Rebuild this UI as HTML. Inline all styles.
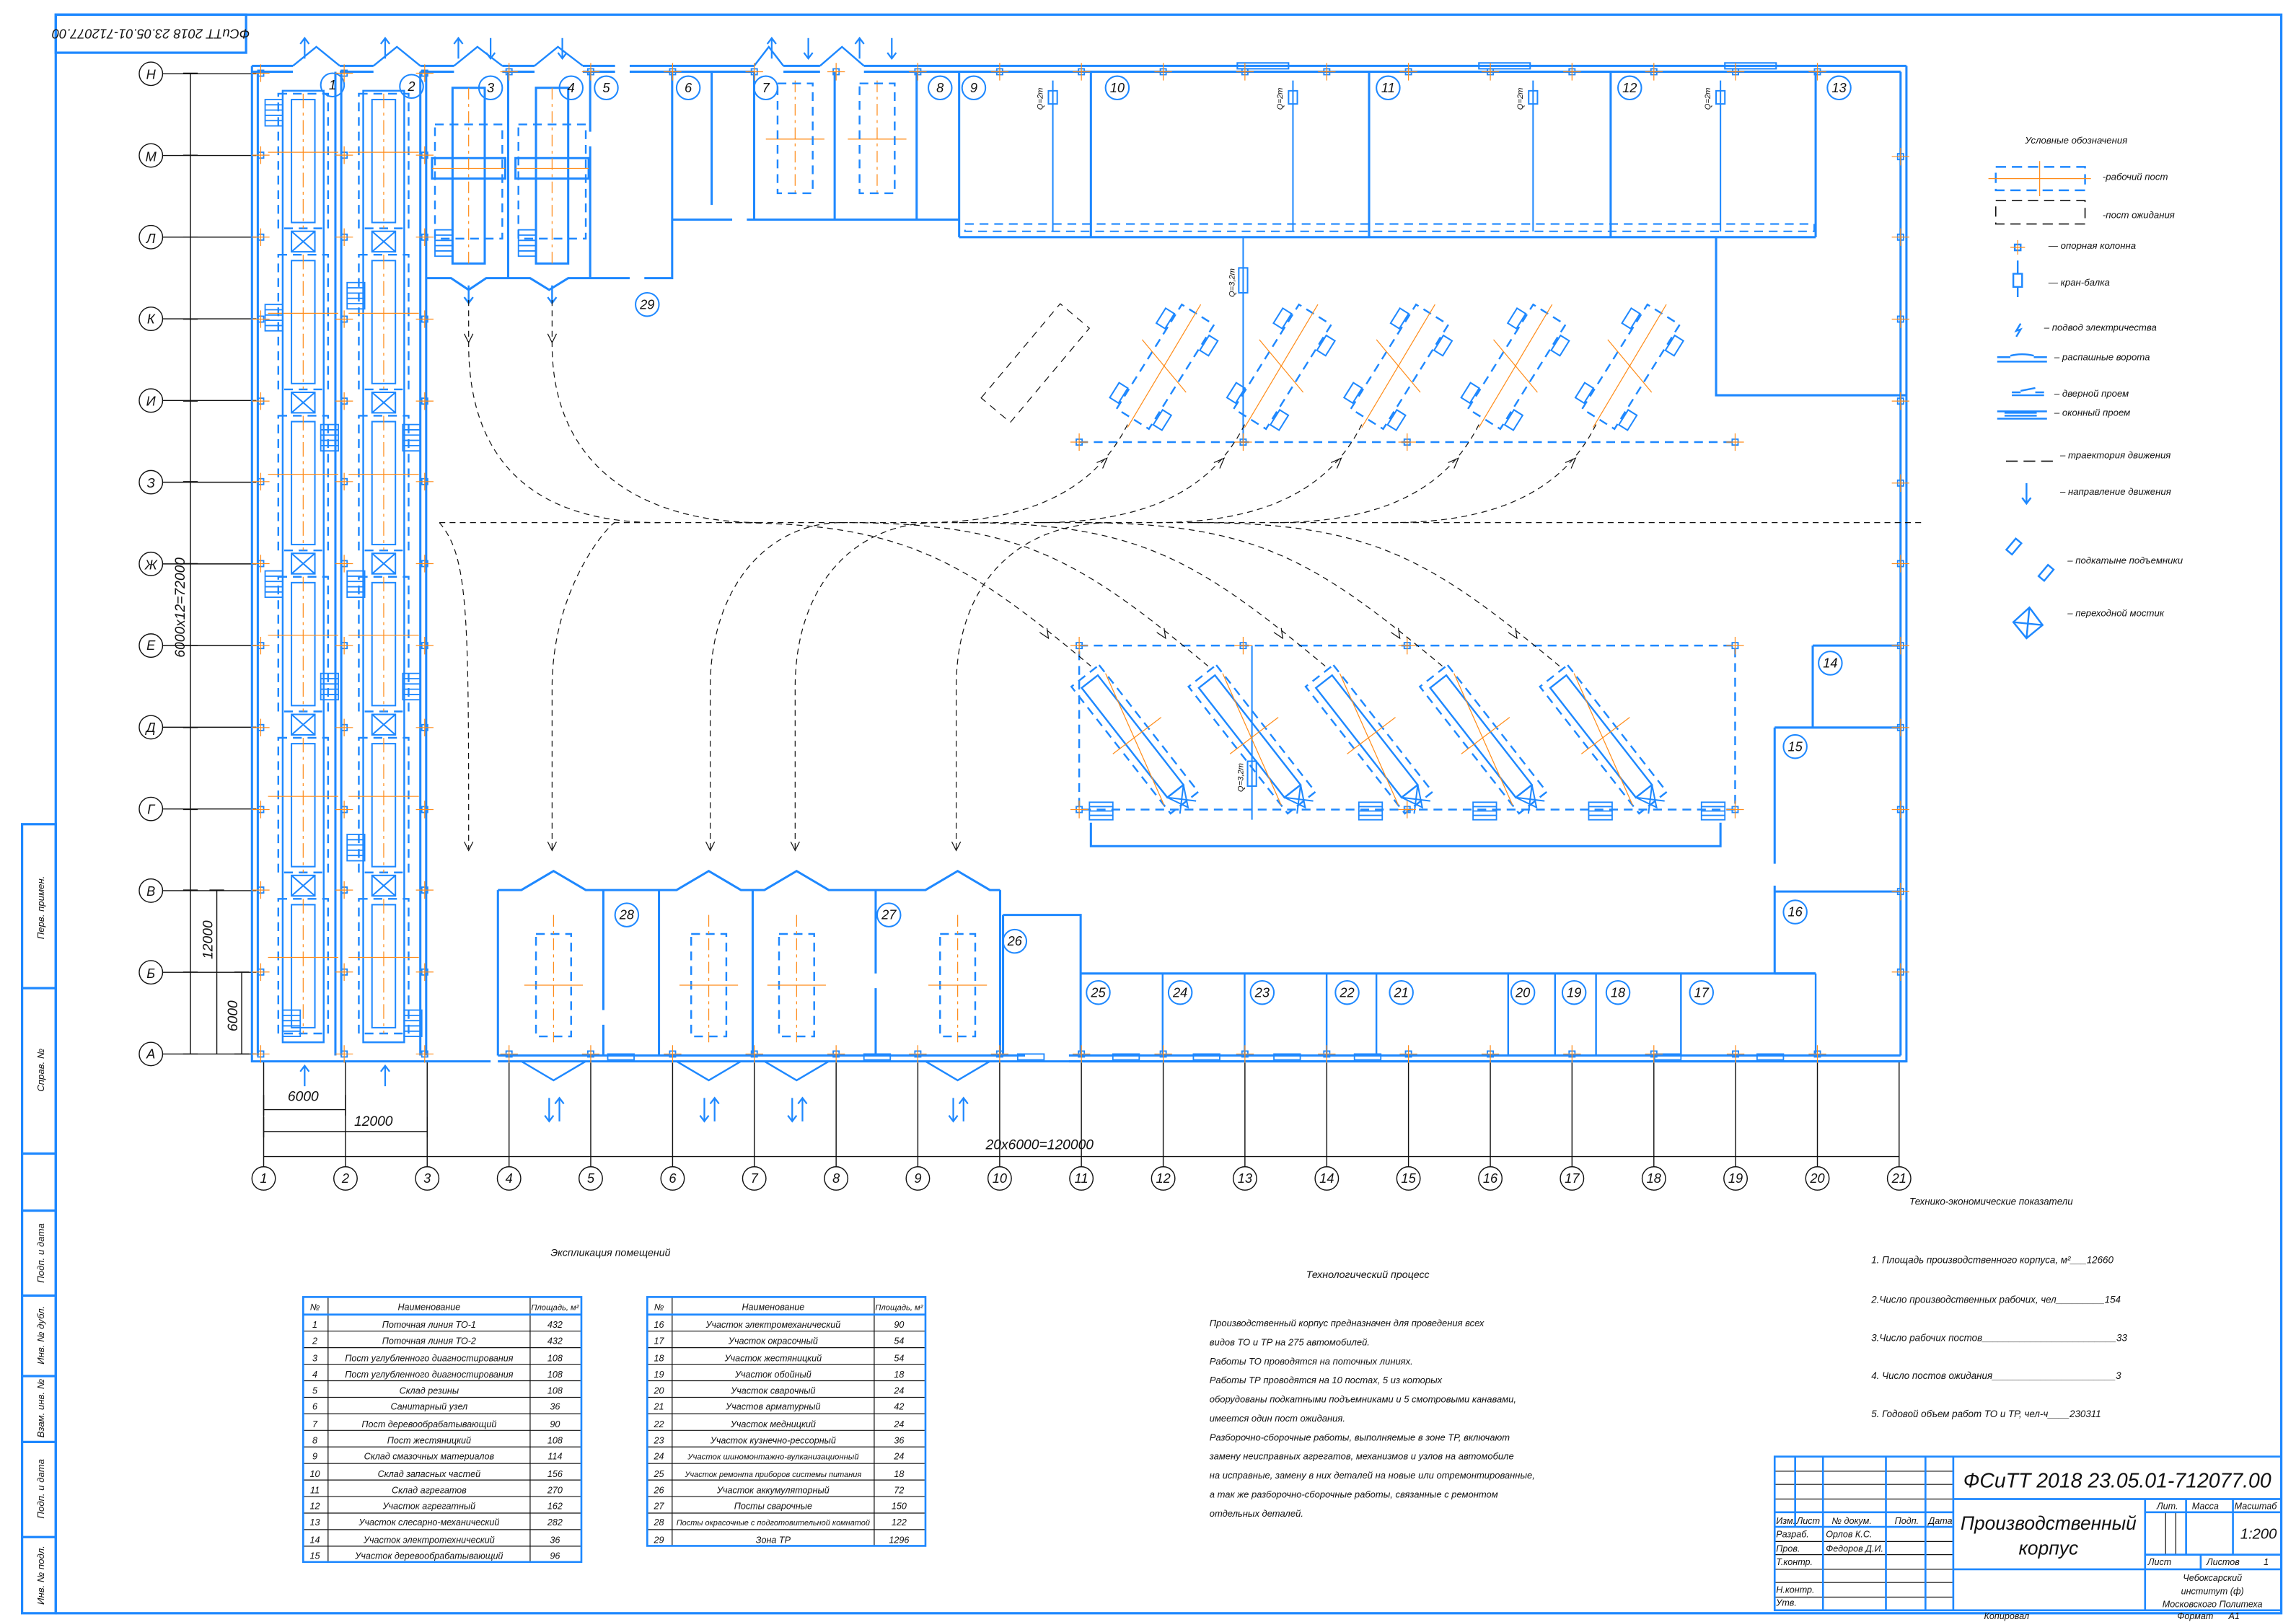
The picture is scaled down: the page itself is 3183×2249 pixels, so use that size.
<!DOCTYPE html>
<html><head><meta charset="utf-8">
<style>
html,body{margin:0;padding:0;background:#fff;}
svg{display:block;}
text{font-family:"Liberation Sans","DejaVu Sans",sans-serif;font-style:italic;fill:#111;}
</style></head>
<body>
<svg width="3183" height="2249" viewBox="0 0 1568 1108" xmlns="http://www.w3.org/2000/svg" xmlns:xlink="http://www.w3.org/1999/xlink">
<defs>
<g id="fp" fill="none">
<rect x="-17" y="0" width="34" height="92" stroke="#1e88ff" stroke-width="1.2" stroke-dasharray="6 4"/>
<rect x="-8" y="4" width="16" height="84" stroke="#1e88ff" stroke-width="1"/>
<line x1="0" y1="0" x2="0" y2="92" stroke="#ff8c1a" stroke-width="0.6" stroke-dasharray="10 3 2 3"/>
<line x1="-24" y1="40" x2="24" y2="40" stroke="#ff8c1a" stroke-width="0.6"/>
</g>
<g id="br" fill="none" stroke="#1e88ff" stroke-width="1"><rect x="-8" y="94" width="16" height="14"/><path d="M-8 94 l16 14 M8 94 l-16 14"/></g>
<g id="st" fill="none" stroke="#1e88ff" stroke-width="0.9"><rect x="0" y="0" width="12" height="18"/><path d="M0 3.6 h12 M0 7.2 h12 M0 10.8 h12 M0 14.4 h12"/></g>
<g id="st2" fill="none" stroke="#1e88ff" stroke-width="0.9"><rect x="0" y="0" width="16" height="12"/><path d="M0 3 h16 M0 6 h16 M0 9 h16"/></g>
<g id="cm" fill="none"><rect x="-2" y="-2" width="4" height="4" stroke="#1e88ff" stroke-width="0.9"/><path d="M-6 0 h12 M0 -6 v12" stroke="#ff8c1a" stroke-width="0.6"/></g>
<g id="up" fill="none">
<g transform="rotate(-58)" stroke="#1e88ff">
<rect x="-42" y="-12" width="84" height="26" stroke-dasharray="6 4" stroke-width="1.2"/>
<rect x="-38" y="-20" width="12" height="7" stroke-width="1"/><rect x="22" y="-20" width="12" height="7" stroke-width="1"/>
<rect x="-38" y="15" width="12" height="7" stroke-width="1"/><rect x="22" y="15" width="12" height="7" stroke-width="1"/>
</g>
<path d="M-25 42 L25 -42 M-15 -18 L15 18" stroke="#ff8c1a" stroke-width="0.6"/>
</g>
<g id="lp" fill="none">
<g transform="rotate(52)" stroke="#1e88ff">
<rect x="-55" y="-12" width="110" height="24" stroke-dasharray="6 4" stroke-width="1.2"/>
<rect x="-50" y="-7" width="95" height="14" stroke-width="1.2"/>
<path d="M45 -7 l14 7 l-14 7 M45 -7 l14 14 M45 7 l14 -14" stroke-width="1"/>
</g>
<path d="M-20 -45 L20 45 M-15 10 L18 -15" stroke="#ff8c1a" stroke-width="0.6"/>
</g>
<g id="sp" fill="none">
<rect x="-12" y="0" width="24" height="70" stroke="#1e88ff" stroke-width="1.2" stroke-dasharray="6 4"/>
<line x1="0" y1="-13" x2="0" y2="74" stroke="#ff8c1a" stroke-width="0.6" stroke-dasharray="8 3 2 3"/>
<line x1="-20" y1="35" x2="20" y2="35" stroke="#ff8c1a" stroke-width="0.6"/>
</g>
<g id="ud" fill="none" stroke="#1e88ff" stroke-width="1.1"><path d="M-3 0 v16 m-3 -4 l3 4 l3 -4 M4 16 v-16 m-3 4 l3 -4 l3 4"/></g>
</defs>
<rect width="1568" height="1108" fill="#fff"/>

<!-- frame -->
<g fill="none" stroke="#1e88ff" stroke-width="1.6">
<rect x="38" y="10" width="1520" height="1092"/>
<rect x="38" y="10" width="130" height="26"/>
<rect x="15" y="563" width="23" height="539"/>
<path d="M15 675 H38 M15 788 H38 M15 827 H38 M15 885 H38 M15 940 H38 M15 985 H38 M15 1050 H38"/>
</g>
<text transform="translate(103,23) rotate(180)" font-size="9" text-anchor="middle" dy="3">ФСиТТ 2018 23.05.01-712077.00</text>
<g font-size="6.5">
<text transform="translate(30,620) rotate(-90)" text-anchor="middle">Перв. примен.</text>
<text transform="translate(30,731) rotate(-90)" text-anchor="middle">Справ. №</text>
<text transform="translate(30,856) rotate(-90)" text-anchor="middle">Подп. и дата</text>
<text transform="translate(30,912) rotate(-90)" text-anchor="middle">Инв. № дубл.</text>
<text transform="translate(30,962) rotate(-90)" text-anchor="middle">Взам. инв. №</text>
<text transform="translate(30,1017) rotate(-90)" text-anchor="middle">Подп. и дата</text>
<text transform="translate(30,1076) rotate(-90)" text-anchor="middle">Инв. № подл.</text>
</g>

<!-- grid -->
<g stroke="#111" stroke-width="0.7" fill="none">
<path d="M180 725V797 M235.9 725V797 M291.7 725V797 M347.6 725V797 M403.4 725V797 M459.3 725V797 M515.1 725V797 M571 725V797 M626.8 725V797 M682.7 725V797 M738.5 725V797 M794.4 725V797 M850.2 725V797 M906.1 725V797 M961.9 725V797 M1017.8 725V797 M1073.6 725V797 M1129.5 725V797 M1185.3 725V797 M1241.2 725V797 M1297 725V797"/>
<path d="M111 720H175 M111 664.2H175 M111 608.4H175 M111 552.6H175 M111 496.8H175 M111 441H175 M111 385.2H175 M111 329.4H175 M111 273.6H175 M111 217.8H175 M111 162H175 M111 106.2H175 M111 50.4H175"/>
<circle cx="180" cy="805" r="8"/><circle cx="235.9" cy="805" r="8"/><circle cx="291.7" cy="805" r="8"/><circle cx="347.6" cy="805" r="8"/><circle cx="403.4" cy="805" r="8"/><circle cx="459.3" cy="805" r="8"/><circle cx="515.1" cy="805" r="8"/><circle cx="571" cy="805" r="8"/><circle cx="626.8" cy="805" r="8"/><circle cx="682.7" cy="805" r="8"/><circle cx="738.5" cy="805" r="8"/><circle cx="794.4" cy="805" r="8"/><circle cx="850.2" cy="805" r="8"/><circle cx="906.1" cy="805" r="8"/><circle cx="961.9" cy="805" r="8"/><circle cx="1017.8" cy="805" r="8"/><circle cx="1073.6" cy="805" r="8"/><circle cx="1129.5" cy="805" r="8"/><circle cx="1185.3" cy="805" r="8"/><circle cx="1241.2" cy="805" r="8"/><circle cx="1297" cy="805" r="8"/>
<circle cx="103" cy="720" r="8"/><circle cx="103" cy="664.2" r="8"/><circle cx="103" cy="608.4" r="8"/><circle cx="103" cy="552.6" r="8"/><circle cx="103" cy="496.8" r="8"/><circle cx="103" cy="441" r="8"/><circle cx="103" cy="385.2" r="8"/><circle cx="103" cy="329.4" r="8"/><circle cx="103" cy="273.6" r="8"/><circle cx="103" cy="217.8" r="8"/><circle cx="103" cy="162" r="8"/><circle cx="103" cy="106.2" r="8"/><circle cx="103" cy="50.4" r="8"/>
<path d="M130 50V720 M148 608V720 M165 664V720 M180 758H235.9 M180 773H291.7 M180 790H1297 M180 748V762 M235.9 748V762 M180 763V777 M291.7 763V777"/>
<path d="M125 720H135 M125 664H135 M125 608H135 M125 553H135 M125 497H135 M125 441H135 M125 385H135 M125 329H135 M125 274H135 M125 218H135 M125 162H135 M125 106H135 M125 50H135 M143 608H153 M160 664H170 M160 720H170"/>
</g>
<g font-size="9" text-anchor="middle">
<text x="103" y="54">Н</text><text x="103" y="110">М</text><text x="103" y="166">Л</text><text x="103" y="221">К</text><text x="103" y="277">И</text><text x="103" y="333">З</text><text x="103" y="389">Ж</text><text x="103" y="444">Е</text><text x="103" y="500">Д</text><text x="103" y="556">Г</text><text x="103" y="612">В</text><text x="103" y="668">Б</text><text x="103" y="723">А</text>
<text x="180" y="808">1</text><text x="235.9" y="808">2</text><text x="291.7" y="808">3</text><text x="347.6" y="808">4</text><text x="403.4" y="808">5</text><text x="459.3" y="808">6</text><text x="515.1" y="808">7</text><text x="571" y="808">8</text><text x="626.8" y="808">9</text><text x="682.7" y="808">10</text><text x="738.5" y="808">11</text><text x="794.4" y="808">12</text><text x="850.2" y="808">13</text><text x="906.1" y="808">14</text><text x="961.9" y="808">15</text><text x="1017.8" y="808">16</text><text x="1073.6" y="808">17</text><text x="1129.5" y="808">18</text><text x="1185.3" y="808">19</text><text x="1241.2" y="808">20</text><text x="1297" y="808">21</text>
</g>
<g font-size="9.5">
<text transform="translate(126,415) rotate(-90)" text-anchor="middle">6000х12=72000</text>
<text transform="translate(145,642) rotate(-90)" text-anchor="middle">12000</text>
<text transform="translate(162,694) rotate(-90)" text-anchor="middle">6000</text>
<text x="207" y="752" text-anchor="middle">6000</text>
<text x="255" y="769" text-anchor="middle">12000</text>
<text x="710" y="785" text-anchor="middle">20х6000=120000</text>
</g>

<!-- building walls -->
<g fill="none" stroke="#1e88ff" stroke-width="1.5">
<path d="M172 45V725H335 M176 49V721"/>
<path d="M1302 45V725H700 M1298 49V721"/>
<path d="M172 45H200 M172 49H200 M232 45H255 M232 49H255 M287 45H310 M287 49H310 M343 45H365 M343 49H365 M398 45H420 M398 49H420 M430 45H515 M430 49H515 M535 45H560 M535 49H560 M590 45H1302 M590 49H1298"/>
<path stroke-width="1.2" d="M200 45L216 32L232 45 M255 45L271 32L287 45 M310 45L326 32L343 45 M365 45L381 32L398 45 M515 45L525 32L535 45 M560 45L575 32L590 45"/>
<path stroke-width="1" d="M845 43h35v4h-35z M1010 43h35v4h-35z M1178 43h35v4h-35z"/>
<path d="M340 725H700 M340 721H700 M730 725H1302 M730 721H1298"/>
<path d="M229 49V721 M233 49V721 M287 49V721 M291 49V721"/>
<!-- flow line frames -->
<rect x="193" y="62" width="28" height="650" stroke-width="1.2"/>
<rect x="248" y="62" width="28" height="650" stroke-width="1.2"/>
<!-- rooms 3,4,5 -->
<path d="M291 190H308L320 198L332 190H362L375 198L388 190H403 M347 49V190 M403 49V90 M403 100V190H430 M459 49V190H440"/>
<path d="M309 60h22v120h-22z M366 60h22v120h-22z M295 108h50v14h-50z M352 108h50v14h-50z"/>
<path stroke-width="1.2" stroke-dasharray="6 4" d="M297 85h46v78h-46z M354 85h46v78h-46z"/>
<path stroke-width="1.2" d="M320 195v12m-3 -4l3 4l3 -4 M377 195v12m-3 -4l3 4l3 -4"/>
<!-- rooms 6-8 -->
<path d="M459 150H500 M510 150H655 M515 49V150 M570 49V150 M626 49V150 M486 49V140 M655 49V162"/>
<!-- rooms 9-13 -->
<path d="M655 162H1240 M745 49V162 M935 49V162 M1100 49V162 M1240 49V162 M1172 162V270H1302"/>
<path stroke-width="1" d="M719 55V158 M883 55V158 M1047 55V158 M1175 55V158 M716 62h6v9h-6z M880 62h6v9h-6z M1044 62h6v9h-6z M1172 62h6v9h-6z"/>
<rect x="659" y="153" width="580" height="5" stroke-width="1" stroke-dasharray="6 4"/>
<!-- TR zone -->
<path stroke-width="1.2" stroke-dasharray="6 4" d="M737 302H1185"/>
<path stroke-width="1" d="M849 162V302 M846 183h6v17h-6z"/>
<rect x="737" y="441" width="448" height="112" stroke-width="1.2" stroke-dasharray="6 4"/>
<path stroke-width="1" d="M855 441V560 M852 520h6v17h-6z"/>
<path d="M745 562V578H1175V562"/>
<!-- right rooms -->
<path d="M1238 441H1298 M1238 441V497 M1212 497H1298 M1212 497V590 M1212 605V665 M1212 609H1298 M1212 665H1240"/>
<!-- bottom rooms -->
<path d="M738 665H1240 M738 665V721 M685 625H738V665 M685 625V721"/>
<path stroke-width="1.2" d="M794 665V721 M850 665V721 M906 665V721 M940 665V721 M1030 665V721 M1062 665V721 M1090 665V721 M1148 665V721 M1240 665V721"/>
<path stroke-width="0.9" d="M760 720h18v4h-18z M815 720h18v4h-18z M870 720h18v4h-18z M925 720h18v4h-18z M1130 720h18v4h-18z M1200 720h18v4h-18z M415 720h18v4h-18z M590 720h18v4h-18z M695 720h18v4h-18z"/>
<path d="M340 608V721 M412 608V690 M412 700V721 M450 608V721 M514 608V721 M598 608V665 M598 675V721 M683 608V721"/>
<path d="M340 608H356L378 595L400 608H462L484 595L506 608H522L544 595L566 608H632L654 595L676 608H683"/>
<path stroke-width="1.2" d="M340 725H356L378 738L400 725 M462 725L484 738L506 725 M522 725L544 738L566 725 M632 725L654 738L676 725"/>
<path stroke-width="1.1" d="M208 40v-14m-3 4l3 -4l3 4 M263 40v-14m-3 4l3 -4l3 4 M313 40v-14m-3 4l3 -4l3 4 M335 26v14m-3 -4l3 4l3 -4 M384 26v14m-3 -4l3 4l3 -4 M527 40v-14m-3 4l3 -4l3 4 M552 26v14m-3 -4l3 4l3 -4 M587 40v-14m-3 4l3 -4l3 4 M609 26v14m-3 -4l3 4l3 -4 M208 742v-14m-3 4l3 -4l3 4 M263 742v-14m-3 4l3 -4l3 4"/>
<!-- number circles -->
<g stroke-width="1">
<circle cx="227" cy="58" r="8"/><circle cx="281" cy="59" r="8"/><circle cx="335" cy="60" r="8"/><circle cx="390" cy="60" r="8"/><circle cx="414" cy="60" r="8"/><circle cx="470" cy="60" r="8"/><circle cx="523" cy="60" r="8"/><circle cx="642" cy="60" r="8"/><circle cx="665" cy="60" r="8"/><circle cx="763" cy="60" r="8"/><circle cx="948" cy="60" r="8"/><circle cx="1113" cy="60" r="8"/><circle cx="1256" cy="60" r="8"/><circle cx="442" cy="208" r="8"/><circle cx="1250" cy="453" r="8"/><circle cx="1226" cy="510" r="8"/><circle cx="1226" cy="623" r="8"/><circle cx="428" cy="625" r="8"/><circle cx="607" cy="625" r="8"/><circle cx="693" cy="643" r="8"/><circle cx="750" cy="678" r="8"/><circle cx="806" cy="678" r="8"/><circle cx="862" cy="678" r="8"/><circle cx="920" cy="678" r="8"/><circle cx="957" cy="678" r="8"/><circle cx="1040" cy="678" r="8"/><circle cx="1075" cy="678" r="8"/><circle cx="1105" cy="678" r="8"/><circle cx="1162" cy="678" r="8"/>
</g>
</g>
<!-- orange centre lines rooms 3,4,7,8 -->
<g stroke="#ff8c1a" stroke-width="0.6" fill="none">
<path stroke-dasharray="8 3 2 3" d="M320 60V180 M377 60V180 M543 55V135 M599 55V135"/>
<path d="M295 115H345 M352 115H402 M523 95H563 M579 95H619"/>
</g>
<path stroke="#1e88ff" stroke-width="1.2" stroke-dasharray="6 4" fill="none" d="M531 57h24v75h-24z M587 57h24v75h-24z"/>
<!-- flow posts -->
<use xlink:href="#fp" x="207" y="64"/><use xlink:href="#fp" x="207" y="174"/><use xlink:href="#fp" x="207" y="284"/><use xlink:href="#fp" x="207" y="394"/><use xlink:href="#fp" x="207" y="504"/><use xlink:href="#fp" x="207" y="614"/>
<use xlink:href="#fp" x="262" y="64"/><use xlink:href="#fp" x="262" y="174"/><use xlink:href="#fp" x="262" y="284"/><use xlink:href="#fp" x="262" y="394"/><use xlink:href="#fp" x="262" y="504"/><use xlink:href="#fp" x="262" y="614"/>
<use xlink:href="#br" x="207" y="64"/><use xlink:href="#br" x="207" y="174"/><use xlink:href="#br" x="207" y="284"/><use xlink:href="#br" x="207" y="394"/><use xlink:href="#br" x="207" y="504"/>
<use xlink:href="#br" x="262" y="64"/><use xlink:href="#br" x="262" y="174"/><use xlink:href="#br" x="262" y="284"/><use xlink:href="#br" x="262" y="394"/><use xlink:href="#br" x="262" y="504"/>
<use xlink:href="#st" x="181" y="68"/><use xlink:href="#st" x="181" y="208"/><use xlink:href="#st" x="181" y="390"/><use xlink:href="#st" x="237" y="193"/><use xlink:href="#st" x="237" y="390"/><use xlink:href="#st" x="237" y="570"/><use xlink:href="#st" x="219" y="460"/><use xlink:href="#st" x="275" y="460"/><use xlink:href="#st" x="275" y="290"/><use xlink:href="#st" x="219" y="290"/><use xlink:href="#st" x="193" y="690"/><use xlink:href="#st" x="276" y="690"/><use xlink:href="#st" x="297" y="157"/><use xlink:href="#st" x="354" y="157"/>
<!-- TR posts -->
<use xlink:href="#up" x="795" y="250"/><use xlink:href="#up" x="875" y="250"/><use xlink:href="#up" x="955" y="250"/><use xlink:href="#up" x="1035" y="250"/><use xlink:href="#up" x="1113" y="250"/>
<use xlink:href="#lp" x="775" y="505"/><use xlink:href="#lp" x="855" y="505"/><use xlink:href="#lp" x="935" y="505"/><use xlink:href="#lp" x="1013" y="505"/><use xlink:href="#lp" x="1095" y="505"/>
<use xlink:href="#st2" x="744" y="548"/><use xlink:href="#st2" x="928" y="548"/><use xlink:href="#st2" x="1006" y="548"/><use xlink:href="#st2" x="1085" y="548"/><use xlink:href="#st2" x="1162" y="548"/>
<use xlink:href="#sp" x="378" y="638"/><use xlink:href="#sp" x="484" y="638"/><use xlink:href="#sp" x="544" y="638"/><use xlink:href="#sp" x="654" y="638"/>
<use xlink:href="#ud" x="378" y="750"/><use xlink:href="#ud" x="484" y="750"/><use xlink:href="#ud" x="544" y="750"/><use xlink:href="#ud" x="654" y="750"/>
<!-- column markers -->
<g>
<use xlink:href="#cm" x="178" y="50"/><use xlink:href="#cm" x="178" y="106"/><use xlink:href="#cm" x="178" y="162"/><use xlink:href="#cm" x="178" y="218"/><use xlink:href="#cm" x="178" y="274"/><use xlink:href="#cm" x="178" y="329"/><use xlink:href="#cm" x="178" y="385"/><use xlink:href="#cm" x="178" y="441"/><use xlink:href="#cm" x="178" y="497"/><use xlink:href="#cm" x="178" y="553"/><use xlink:href="#cm" x="178" y="608"/><use xlink:href="#cm" x="178" y="664"/><use xlink:href="#cm" x="178" y="720"/>
<use xlink:href="#cm" x="235" y="50"/><use xlink:href="#cm" x="235" y="106"/><use xlink:href="#cm" x="235" y="162"/><use xlink:href="#cm" x="235" y="218"/><use xlink:href="#cm" x="235" y="274"/><use xlink:href="#cm" x="235" y="329"/><use xlink:href="#cm" x="235" y="385"/><use xlink:href="#cm" x="235" y="441"/><use xlink:href="#cm" x="235" y="497"/><use xlink:href="#cm" x="235" y="553"/><use xlink:href="#cm" x="235" y="608"/><use xlink:href="#cm" x="235" y="664"/><use xlink:href="#cm" x="235" y="720"/>
<use xlink:href="#cm" x="290" y="50"/><use xlink:href="#cm" x="290" y="106"/><use xlink:href="#cm" x="290" y="162"/><use xlink:href="#cm" x="290" y="218"/><use xlink:href="#cm" x="290" y="274"/><use xlink:href="#cm" x="290" y="329"/><use xlink:href="#cm" x="290" y="385"/><use xlink:href="#cm" x="290" y="441"/><use xlink:href="#cm" x="290" y="497"/><use xlink:href="#cm" x="290" y="553"/><use xlink:href="#cm" x="290" y="608"/><use xlink:href="#cm" x="290" y="664"/><use xlink:href="#cm" x="290" y="720"/>
<use xlink:href="#cm" x="737" y="302"/><use xlink:href="#cm" x="849" y="302"/><use xlink:href="#cm" x="961" y="302"/><use xlink:href="#cm" x="1185" y="302"/><use xlink:href="#cm" x="737" y="441"/><use xlink:href="#cm" x="849" y="441"/><use xlink:href="#cm" x="961" y="441"/><use xlink:href="#cm" x="1185" y="441"/><use xlink:href="#cm" x="737" y="553"/><use xlink:href="#cm" x="961" y="553"/><use xlink:href="#cm" x="1185" y="553"/>
<use xlink:href="#cm" x="347.6" y="720"/><use xlink:href="#cm" x="403.4" y="720"/><use xlink:href="#cm" x="459.3" y="720"/><use xlink:href="#cm" x="515.1" y="720"/><use xlink:href="#cm" x="571" y="720"/><use xlink:href="#cm" x="626.8" y="720"/><use xlink:href="#cm" x="682.7" y="720"/><use xlink:href="#cm" x="738.5" y="720"/><use xlink:href="#cm" x="794.4" y="720"/><use xlink:href="#cm" x="850.2" y="720"/><use xlink:href="#cm" x="906.1" y="720"/><use xlink:href="#cm" x="961.9" y="720"/><use xlink:href="#cm" x="1017.8" y="720"/><use xlink:href="#cm" x="1073.6" y="720"/><use xlink:href="#cm" x="1129.5" y="720"/><use xlink:href="#cm" x="1185.3" y="720"/><use xlink:href="#cm" x="1241.2" y="720"/>
<use xlink:href="#cm" x="347.6" y="49"/><use xlink:href="#cm" x="403.4" y="49"/><use xlink:href="#cm" x="459.3" y="49"/><use xlink:href="#cm" x="515.1" y="49"/><use xlink:href="#cm" x="571" y="49"/><use xlink:href="#cm" x="626.8" y="49"/><use xlink:href="#cm" x="682.7" y="49"/><use xlink:href="#cm" x="738.5" y="49"/><use xlink:href="#cm" x="794.4" y="49"/><use xlink:href="#cm" x="850.2" y="49"/><use xlink:href="#cm" x="906.1" y="49"/><use xlink:href="#cm" x="961.9" y="49"/><use xlink:href="#cm" x="1017.8" y="49"/><use xlink:href="#cm" x="1073.6" y="49"/><use xlink:href="#cm" x="1129.5" y="49"/><use xlink:href="#cm" x="1185.3" y="49"/><use xlink:href="#cm" x="1241.2" y="49"/>
<use xlink:href="#cm" x="1298" y="107"/><use xlink:href="#cm" x="1298" y="162"/><use xlink:href="#cm" x="1298" y="218"/><use xlink:href="#cm" x="1298" y="274"/><use xlink:href="#cm" x="1298" y="330"/><use xlink:href="#cm" x="1298" y="385"/><use xlink:href="#cm" x="1298" y="441"/><use xlink:href="#cm" x="1298" y="497"/><use xlink:href="#cm" x="1298" y="553"/><use xlink:href="#cm" x="1298" y="609"/><use xlink:href="#cm" x="1298" y="664"/>
</g>
<!-- trajectories -->
<g stroke="#111" stroke-width="0.6" fill="none" stroke-dasharray="4 3">
<path d="M300 357H1312"/>
<path d="M320 205V235C320 320 370 357 450 357 M377 205V235C377 320 440 357 520 357 M300 357C320 380 320 420 320 580"/>
<path d="M377 580V470C377 400 417 357 420 357 M485 580V470C485 400 525 357 575 357 M543 580V470C543 400 583 357 640 357 M653 580V470C653 400 693 357 760 357"/>
<path d="M770 290C750 330 710 357 630 357 M850 290C830 330 790 357 710 357 M930 290C910 330 870 357 790 357 M1010 290C990 330 950 357 870 357 M1090 290C1070 330 1030 357 950 357"/>
<path d="M495 357C615 357 655 380 745 455 M575 357C695 357 735 380 825 455 M655 357C775 357 815 380 905 455 M735 357C855 357 895 380 985 455 M815 357C935 357 975 380 1065 455"/>
<rect x="665" y="235" width="84" height="26" transform="rotate(-50 707 248)" stroke-dasharray="5 4"/>
</g>
<g stroke="#111" stroke-width="0.6" fill="none">
<path d="M753 320l3 -7l-7 3 M833 320l3 -7l-7 3 M913 320l3 -7l-7 3 M993 320l3 -7l-7 3 M1073 320l3 -7l-7 3"/>
<path d="M710 432l6 4l-1 -7 M790 432l6 4l-1 -7 M870 432l6 4l-1 -7 M950 432l6 4l-1 -7 M1030 432l6 4l-1 -7"/>
<path d="M317 575l3 6l3 -6 M374 575l3 6l3 -6 M482 575l3 6l3 -6 M540 575l3 6l3 -6 M650 575l3 6l3 -6 M317 228l3 6l3 -6 M374 228l3 6l3 -6"/>
</g>

<!-- labels in plan -->
<g font-size="9" text-anchor="middle">
<text x="227" y="61">1</text><text x="281" y="62">2</text><text x="335" y="63">3</text><text x="390" y="63">4</text><text x="414" y="63">5</text><text x="470" y="63">6</text><text x="523" y="63">7</text><text x="642" y="63">8</text><text x="665" y="63">9</text><text x="763" y="63">10</text><text x="948" y="63">11</text><text x="1113" y="63">12</text><text x="1256" y="63">13</text>
<text x="442" y="211">29</text><text x="1250" y="456">14</text><text x="1226" y="513">15</text><text x="1226" y="626">16</text>
<text x="428" y="628">28</text><text x="607" y="628">27</text><text x="693" y="646">26</text>
<text x="750" y="681">25</text><text x="806" y="681">24</text><text x="862" y="681">23</text><text x="920" y="681">22</text><text x="957" y="681">21</text><text x="1040" y="681">20</text><text x="1075" y="681">19</text><text x="1105" y="681">18</text><text x="1162" y="681">17</text>
</g>
<g font-size="5.5">
<text transform="translate(712,75) rotate(-90)">Q=2т</text><text transform="translate(876,75) rotate(-90)">Q=2т</text><text transform="translate(1040,75) rotate(-90)">Q=2т</text><text transform="translate(1168,75) rotate(-90)">Q=2т</text>
<text transform="translate(843,203) rotate(-90)">Q=3,2т</text><text transform="translate(849,541) rotate(-90)">Q=3,2т</text>
</g>

<!-- legend -->
<g font-size="6.5">
<text x="1383" y="98">Условные обозначения</text>
<text x="1436" y="123">-рабочий пост</text>
<text x="1436" y="149">-пост ожидания</text>
<text x="1399" y="170">— опорная колонна</text>
<text x="1399" y="195">— кран-балка</text>
<text x="1396" y="226">– подвод электричества</text>
<text x="1403" y="246">– распашные ворота</text>
<text x="1403" y="271">– дверной проем</text>
<text x="1403" y="284">– оконный проем</text>
<text x="1407" y="313">– траектория движения</text>
<text x="1407" y="338">– направление движения</text>
<text x="1412" y="385">– подкатыне подъемники</text>
<text x="1412" y="421">– переходной мостик</text>
</g>
<g fill="none" stroke="#1e88ff" stroke-width="1.2">
<rect x="1363" y="114" width="61" height="16" stroke-dasharray="7 4"/>
<rect x="1363" y="137" width="61" height="16" stroke="#111" stroke-width="0.8" stroke-dasharray="7 4"/>
<rect x="1376" y="167" width="4" height="4"/>
<path d="M1378 178V187 M1375 187h6v9h-6z M1378 196V203"/>
<polyline points="1380,221 1377,226 1380,225 1377,230"/>
<path d="M1364 244h9 M1373 243q8 -2 16 0 M1389 244h9 M1364 247h34"/>
<path d="M1374 268h6 M1380 267l10 -2 M1390 268h6 M1374 270h22"/>
<path d="M1364 281h34 M1364 286h34 M1369 282h22 M1369 284h22"/>
<path d="M1384 330v14 M1381 340l3 4l3 -4"/>
<rect x="1370" y="371" width="10" height="5" transform="rotate(-50 1375 373)"/>
<rect x="1392" y="389" width="10" height="5" transform="rotate(-50 1397 391)"/>
<path d="M1375 425l11 -10l9 12l-11 9z M1375 425l20 2 M1386 415l-2 21"/>
</g>
<path stroke="#ff8c1a" stroke-width="0.6" fill="none" d="M1358 122H1428 M1393 110V134 M1373 169H1383 M1378 164V174"/>
<path d="M1370 315h8 M1382 315h8 M1394 315h8" stroke="#111" stroke-width="0.8"/>

<!-- tables -->
<g stroke="#111" stroke-width="0.6" fill="none">
<path d="M207 909.3H397 M207 920.6H397 M207 931.9H397 M207 943.2H397 M207 954.5H397 M207 965.8H397 M207 977.1H397 M207 988.4H397 M207 999.7H397 M207 1011H397 M207 1022.3H397 M207 1033.6H397 M207 1044.9H397 M207 1056.2H397 M224 886V1067 M362 886V1067"/>
<path d="M442 909.3H632 M442 920.6H632 M442 931.9H632 M442 943.2H632 M442 954.5H632 M442 965.8H632 M442 977.1H632 M442 988.4H632 M442 999.7H632 M442 1011H632 M442 1022.3H632 M442 1033.6H632 M442 1044.9H632 M459 886V1056 M597 886V1056"/>
</g>
<g stroke="#1e88ff" stroke-width="1.3" fill="none">
<rect x="207" y="886" width="190" height="181"/><path d="M207 898H397"/>
<rect x="442" y="886" width="190" height="170"/><path d="M442 898H632"/>
</g>
<g font-size="6.2" text-anchor="middle">
<text x="215" y="895">№</text><text x="293" y="895">Наименование</text><text x="379" y="895" font-size="5.5">Площадь, м²</text>
<text x="215" y="907">1</text><text x="293" y="907">Поточная линия ТО-1</text><text x="379" y="907">432</text>
<text x="215" y="918">2</text><text x="293" y="918">Поточная линия ТО-2</text><text x="379" y="918">432</text>
<text x="215" y="930">3</text><text x="293" y="930">Пост углубленного диагностирования</text><text x="379" y="930">108</text>
<text x="215" y="941">4</text><text x="293" y="941">Пост углубленного диагностирования</text><text x="379" y="941">108</text>
<text x="215" y="952">5</text><text x="293" y="952">Склад резины</text><text x="379" y="952">108</text>
<text x="215" y="963">6</text><text x="293" y="963">Санитарный узел</text><text x="379" y="963">36</text>
<text x="215" y="975">7</text><text x="293" y="975">Пост деревообрабатывающий</text><text x="379" y="975">90</text>
<text x="215" y="986">8</text><text x="293" y="986">Пост жестяницкий</text><text x="379" y="986">108</text>
<text x="215" y="997">9</text><text x="293" y="997">Склад смазочных материалов</text><text x="379" y="997">114</text>
<text x="215" y="1009">10</text><text x="293" y="1009">Склад запасных частей</text><text x="379" y="1009">156</text>
<text x="215" y="1020">11</text><text x="293" y="1020">Склад агрегатов</text><text x="379" y="1020">270</text>
<text x="215" y="1031">12</text><text x="293" y="1031">Участок агрегатный</text><text x="379" y="1031">162</text>
<text x="215" y="1042">13</text><text x="293" y="1042">Участок слесарно-механический</text><text x="379" y="1042">282</text>
<text x="215" y="1054">14</text><text x="293" y="1054">Участок электротехнический</text><text x="379" y="1054">36</text>
<text x="215" y="1065">15</text><text x="293" y="1065">Участок деревообрабатывающий</text><text x="379" y="1065">96</text>
<text x="450" y="895">№</text><text x="528" y="895">Наименование</text><text x="614" y="895" font-size="5.5">Площадь, м²</text>
<text x="450" y="907">16</text><text x="528" y="907">Участок электромеханический</text><text x="614" y="907">90</text>
<text x="450" y="918">17</text><text x="528" y="918">Участок окрасочный</text><text x="614" y="918">54</text>
<text x="450" y="930">18</text><text x="528" y="930">Участок жестяницкий</text><text x="614" y="930">54</text>
<text x="450" y="941">19</text><text x="528" y="941">Участок обойный</text><text x="614" y="941">18</text>
<text x="450" y="952">20</text><text x="528" y="952">Участок сварочный</text><text x="614" y="952">24</text>
<text x="450" y="963">21</text><text x="528" y="963">Участов арматурный</text><text x="614" y="963">42</text>
<text x="450" y="975">22</text><text x="528" y="975">Участок медницкий</text><text x="614" y="975">24</text>
<text x="450" y="986">23</text><text x="528" y="986">Участок кузнечно-рессорный</text><text x="614" y="986">36</text>
<text x="450" y="997">24</text><text x="528" y="997" font-size="5.6">Участок шиномонтажно-вулканизационный</text><text x="614" y="997">24</text>
<text x="450" y="1009">25</text><text x="528" y="1009" font-size="5.4">Участок ремонта приборов системы питания</text><text x="614" y="1009">18</text>
<text x="450" y="1020">26</text><text x="528" y="1020">Участок аккумуляторный</text><text x="614" y="1020">72</text>
<text x="450" y="1031">27</text><text x="528" y="1031">Посты сварочные</text><text x="614" y="1031">150</text>
<text x="450" y="1042">28</text><text x="528" y="1042" font-size="5.4">Посты окрасочные с подготовительной комнатой</text><text x="614" y="1042">122</text>
<text x="450" y="1054">29</text><text x="528" y="1054">Зона ТР</text><text x="614" y="1054">1296</text>
</g>
<text x="376" y="858" font-size="7">Экспликация помещений</text>
<text x="892" y="873" font-size="7">Технологический процесс</text>
<g font-size="6.4">
<text x="826" y="906">Производственный корпус предназначен для проведения всех</text>
<text x="826" y="919">видов ТО и ТР на 275 автомобилей.</text>
<text x="826" y="932">Работы ТО проводятся на поточных линиях.</text>
<text x="826" y="945">Работы ТР проводятся на 10 постах, 5 из которых</text>
<text x="826" y="958">оборудованы подкатными подъемниками и 5 смотровыми канавами,</text>
<text x="826" y="971">имеется один пост ожидания.</text>
<text x="826" y="984">Разборочно-сборочные работы, выполняемые в зоне ТР, включают</text>
<text x="826" y="997">замену неисправных агрегатов, механизмов и узлов на автомобиле</text>
<text x="826" y="1010">на исправные, замену в них деталей на новые или отремонтированные,</text>
<text x="826" y="1023">а так же разборочно-сборочные работы, связанные с ремонтом</text>
<text x="826" y="1036">отдельных деталей.</text>
</g>
<g font-size="6.6">
<text x="1304" y="823">Технико-экономические показатели</text>
<text x="1278" y="863">1. Площадь производственного корпуса, м²___12660</text>
<text x="1278" y="890">2.Число производственных рабочих, чел_________154</text>
<text x="1278" y="916">3.Число рабочих постов_________________________33</text>
<text x="1278" y="942">4. Число постов ожидания_______________________3</text>
<text x="1278" y="968">5. Годовой объем работ ТО и ТР, чел-ч____230311</text>
</g>

<!-- title block -->
<g fill="none" stroke="#111" stroke-width="0.6">
<path d="M1212 1005H1334 M1212 1014H1334 M1212 1024H1334 M1212 1053H1334 M1212 1062H1334 M1212 1072H1334 M1212 1081H1334 M1212 1091H1334"/>
<path d="M1479 1033v29 M1486 1033v29"/>
</g>
<g fill="none" stroke="#1e88ff" stroke-width="1.3">
<rect x="1212" y="995" width="346" height="105"/>
<path d="M1226 995V1043 M1245 995V1100 M1288 995V1100 M1315 995V1100 M1334 995V1100 M1212 1033H1334 M1212 1043H1334"/>
<path d="M1334 1024H1558 M1334 1072H1558 M1465 1024V1100 M1493 1024V1062 M1525 1024V1062 M1465 1033H1558 M1465 1062H1558 M1503 1062V1072"/>
</g>
<text x="1446" y="1016" font-size="14" text-anchor="middle">ФСиТТ 2018 23.05.01-712077.00</text>
<text x="1399" y="1045" font-size="13" text-anchor="middle">Производственный</text>
<text x="1399" y="1062" font-size="13" text-anchor="middle">корпус</text>
<g font-size="6.2">
<text x="1213" y="1041">Изм.</text><text x="1227" y="1041">Лист</text><text x="1251" y="1041">№ докум.</text><text x="1294" y="1041">Подп.</text><text x="1317" y="1041">Дата</text>
<text x="1213" y="1050">Разраб.</text><text x="1247" y="1050">Орлов К.С.</text>
<text x="1213" y="1060">Пров.</text><text x="1247" y="1060">Федоров Д.И.</text>
<text x="1213" y="1069">Т.контр.</text>
<text x="1213" y="1088">Н.контр.</text><text x="1213" y="1097">Утв.</text>
<text x="1473" y="1031">Лит.</text><text x="1497" y="1031">Масса</text><text x="1526" y="1031">Масштаб</text>
<text x="1467" y="1069">Лист</text><text x="1507" y="1069">Листов</text><text x="1546" y="1069">1</text>
<text x="1511" y="1080" text-anchor="middle">Чебоксарский</text>
<text x="1511" y="1089" text-anchor="middle">институт (ф)</text>
<text x="1511" y="1098" text-anchor="middle">Московского Политеха</text>
<text x="1355" y="1106">Копировал</text><text x="1487" y="1106">Формат</text><text x="1522" y="1106">А1</text>
</g>
<text x="1530" y="1051" font-size="10">1:200</text>
</svg>
</body></html>
